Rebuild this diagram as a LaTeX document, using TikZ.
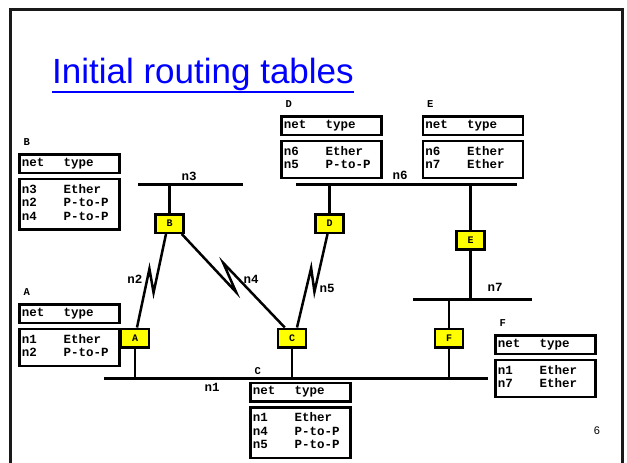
\documentclass[tikz,border=0pt]{standalone}
\usepackage{fontspec}
\setmainfont{Liberation Sans}
\setmonofont{Liberation Mono}
\usetikzlibrary{calc,positioning}
\definecolor{routerColor}{RGB}{255,255,0}
\definecolor{titleColor}{RGB}{0,0,255}
\definecolor{frameColor}{RGB}{25,25,25}
\tikzset{router/.style={draw, fill=routerColor, line width=2.5pt, minimum width=28pt, minimum height=18.5pt, inner sep=0pt, font=\ttfamily\bfseries\fontsize{10}{10}\selectfont}}
\tikzset{tablecell/.style={draw, line width=2.5pt, text width=95pt, inner xsep=2.5pt, align=left, font=\ttfamily\bfseries\fontsize{12.5}{13.5}\selectfont}}
\tikzset{tablehead/.style={tablecell, anchor=north west, inner ysep=2.5pt}}
\tikzset{tablebody/.style={tablecell, inner ysep=5pt}}
\tikzset{tabletag/.style={inner sep=0pt, font=\ttfamily\bfseries\fontsize{10.5}{10.5}\selectfont}}
\tikzset{netlabel/.style={inner sep=0pt, font=\ttfamily\bfseries\fontsize{12.5}{12.5}\selectfont}}
\tikzset{bus/.style={line width=3pt}}
\tikzset{link/.style={line width=2.5pt}}

\begin{document}
\begin{tikzpicture}[x=1pt, y=-1pt, node distance=3.5pt]
\useasboundingbox (0,0) rectangle (627,463);

% Slide frame, title, page number
\draw[frameColor, line width=2.7pt] (10.7,463) -- (10.7,9.3) -- (622.7,9.3) -- (622.7,463);
\node[anchor=base west, inner sep=0pt, text=titleColor, font=\fontsize{35}{40}\selectfont] (Title) at (52,83) {Initial routing tables};
\draw[titleColor, line width=1.8pt] ([yshift=-1.5pt]Title.south west) -- ([yshift=-1.5pt]Title.south east);
\node[inner sep=0pt, font=\fontsize{11}{11}\selectfont] (PageNumber) at (597,431) {6};

% Ethernets
\coordinate (N3West) at (138,184); \coordinate (N3East) at (243,184);
\coordinate (N6West) at (296,184); \coordinate (N6East) at (517,184);
\coordinate (N7West) at (413,299); \coordinate (N7East) at (532,299);
\coordinate (N1West) at (104,378); \coordinate (N1East) at (488,378);
\draw[bus] (N3West) -- (N3East);
\draw[bus] (N6West) -- (N6East);
\draw[bus] (N7West) -- (N7East);
\draw[bus] (N1West) -- (N1East);

\node[netlabel] (N3Label) at (189,176) {n3};
\node[netlabel] (N6Label) at (400,175) {n6};
\node[netlabel] (N7Label) at (495,287) {n7};
\node[netlabel] (N1Label) at (212,387) {n1};

% Routers
\node[router] (RouterA) at (135,338) {A};
\node[router] (RouterB) at (169.5,223.5) {B};
\node[router] (RouterC) at (292,338) {C};
\node[router] (RouterD) at (329.5,223.5) {D};
\node[router] (RouterE) at (470.5,240) {E};
\node[router] (RouterF) at (449,338) {F};

% Drops onto the ethernets
\draw[link] (RouterB) -- (RouterB |- N3West);
\draw[link] (RouterD) -- (RouterD |- N6West);
\draw[link] (RouterE) -- (RouterE |- N6West);
\draw[link] (RouterE) -- (RouterE |- N7West);
\draw[link] (RouterF) -- (RouterF |- N7West);
\draw[link] (RouterF) -- (RouterF |- N1West);
\draw[link] (RouterA) -- (RouterA |- N1West);
\draw[link] (RouterC) -- (RouterC |- N1West);

% Point-to-point links (zigzag in the middle)
\coordinate (N2Top) at ([xshift=-3.5pt]RouterB.south);
\coordinate (N2Bot) at ([xshift=2pt]RouterA.north);
\draw[link] (N2Top) -- ($(N2Top)!.61!(N2Bot)!5.5pt!90:(N2Bot)$) -- ($(N2Top)!.39!(N2Bot)!5.5pt!-90:(N2Bot)$) -- (N2Bot);
\coordinate (N4Top) at ([xshift=-3pt]RouterB.south east);
\coordinate (N4Bot) at ([xshift=8pt]RouterC.north west);
\draw[link] (N4Top) -- ($(N4Top)!.57!(N4Bot)!6.5pt!-90:(N4Bot)$) -- ($(N4Top)!.36!(N4Bot)!6.5pt!90:(N4Bot)$) -- (N4Bot);
\coordinate (N5Top) at ([xshift=-2pt]RouterD.south);
\coordinate (N5Bot) at ([xshift=5pt]RouterC.north);
\draw[link] (N5Top) -- ($(N5Top)!.6!(N5Bot)!5.5pt!90:(N5Bot)$) -- ($(N5Top)!.38!(N5Bot)!5pt!-90:(N5Bot)$) -- (N5Bot);

\node[netlabel] (N2Label) at (135,279) {n2};
\node[netlabel] (N4Label) at (251,279) {n4};
\node[netlabel] (N5Label) at (327,288) {n5};

% Routing tables
\node[tablehead] (TableBHead) at (18,153) {\begin{tabular}{@{}p{42pt}@{}l@{}}net & type\end{tabular}};
\node[tablebody, below=of TableBHead] (TableBBody) {\begin{tabular}{@{}p{42pt}@{}l@{}}n3 & Ether\\ n2 & P-to-P\\ n4 & P-to-P\end{tabular}};
\node[tabletag, above right=7pt and 5.5pt of TableBHead.north west] (TableBTag) {B};

\node[tablehead] (TableAHead) at (18,303) {\begin{tabular}{@{}p{42pt}@{}l@{}}net & type\end{tabular}};
\node[tablebody, below=of TableAHead] (TableABody) {\begin{tabular}{@{}p{42pt}@{}l@{}}n1 & Ether\\ n2 & P-to-P\end{tabular}};
\node[tabletag, above right=7pt and 5.5pt of TableAHead.north west] (TableATag) {A};

\node[tablehead] (TableDHead) at (280,115) {\begin{tabular}{@{}p{42pt}@{}l@{}}net & type\end{tabular}};
\node[tablebody, below=of TableDHead] (TableDBody) {\begin{tabular}{@{}p{42pt}@{}l@{}}n6 & Ether\\ n5 & P-to-P\end{tabular}};
\node[tabletag, above right=7pt and 5.5pt of TableDHead.north west] (TableDTag) {D};

\node[tablehead] (TableEHead) at (421.5,115) {\begin{tabular}{@{}p{42pt}@{}l@{}}net & type\end{tabular}};
\node[tablebody, below=of TableEHead] (TableEBody) {\begin{tabular}{@{}p{42pt}@{}l@{}}n6 & Ether\\ n7 & Ether\end{tabular}};
\node[tabletag, above right=7pt and 5.5pt of TableEHead.north west] (TableETag) {E};

\node[tablehead] (TableCHead) at (249,381.5) {\begin{tabular}{@{}p{42pt}@{}l@{}}net & type\end{tabular}};
\node[tablebody, below=of TableCHead] (TableCBody) {\begin{tabular}{@{}p{42pt}@{}l@{}}n1 & Ether\\ n4 & P-to-P\\ n5 & P-to-P\end{tabular}};
\node[tabletag, above right=7pt and 5.5pt of TableCHead.north west] (TableCTag) {C};

\node[tablehead] (TableFHead) at (494,334) {\begin{tabular}{@{}p{42pt}@{}l@{}}net & type\end{tabular}};
\node[tablebody, below=of TableFHead] (TableFBody) {\begin{tabular}{@{}p{42pt}@{}l@{}}n1 & Ether\\ n7 & Ether\end{tabular}};
\node[tabletag, above right=7pt and 5.5pt of TableFHead.north west] (TableFTag) {F};

\end{tikzpicture}
\end{document}
